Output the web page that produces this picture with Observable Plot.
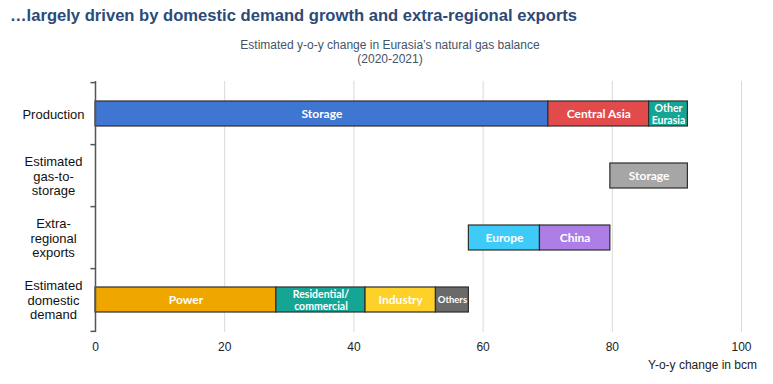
<!DOCTYPE html>
<html>
<head>
<meta charset="utf-8">
<script src="https://cdn.jsdelivr.net/npm/d3@7"></script>
<script src="https://cdn.jsdelivr.net/npm/@observablehq/plot@0.6"></script>
<style>
  body { margin: 0; background: #fff; width: 773px; height: 384px; position: relative; overflow: hidden; font-family: "Liberation Sans", Arial, sans-serif; }
  #title { position: absolute; left: 10px; top: 6px; font-size: 16.6px; font-weight: bold; color: #2C4A77; white-space: nowrap; }
  #subtitle { position: absolute; left: 0; width: 780px; top: 38px; text-align: center; font-size: 12px; line-height: 14px; color: #44546A; }
  #chart { position: absolute; left: 0; top: 70px; }
  #xlabel { position: absolute; right: 16px; top: 358px; font-size: 12px; color: #222; }
</style>
</head>
<body>
<div id="title">…largely driven by domestic demand growth and extra-regional exports</div>
<div id="subtitle">Estimated y-o-y change in Eurasia’s natural gas balance<br>(2020-2021)</div>
<div id="chart"></div>
<div id="xlabel">Y-o-y change in bcm</div>
<script>
// Categories (top to bottom)
const categories = ["Production", "Estimated gas-to-storage", "Extra-regional exports", "Estimated domestic demand"];
const categoryLabels = ["Production", "Estimated\ngas-to-\nstorage", "Extra-\nregional\nexports", "Estimated\ndomestic\ndemand"];

// Segments per category (bcm)
const productionNames = ["Storage", "Central Asia", "Other\nEurasia"];
const productionValues = [70.1, 15.6, 6.0];
const productionColors = ["#3F76D2", "#E24B4B", "#14A595"];

const storageNames = ["Storage"];
const storageValues = [12.0];
const storageColors = ["#A6A6A6"];

const exportNames = ["Europe", "China"];
const exportValues = [11.0, 10.9];
const exportColors = ["#3FCBF7", "#AC7EE6"];

const demandNames = ["Power", "Residential/\ncommercial", "Industry", "Others"];
const demandValues = [28.0, 13.8, 10.9, 5.1];
const demandColors = ["#EFA700", "#14A595", "#FDD128", "#6A6A6A"];

const xTicks = [0, 20, 40, 60, 80, 100];

// Build segment table (waterfall: demand from 0, exports after demand, storage after exports)
const sum = a => a.reduce((s, v) => s + v, 0);
function build(cat, names, values, colors, start, fontSizes) {
  let acc = start;
  return names.map((n, i) => {
    const r = {cat, name: n, x1: acc, x2: acc + values[i], color: colors[i], fs: fontSizes ? fontSizes[i] : 12};
    acc += values[i];
    return r;
  });
}
const demandTotal = sum(demandValues);
const exportTotal = sum(exportValues);
const segments = [
  ...build(categories[0], productionNames, productionValues, productionColors, 0, [12, 12, 10.5]),
  ...build(categories[1], storageNames, storageValues, storageColors, demandTotal + exportTotal),
  ...build(categories[2], exportNames, exportValues, exportColors, demandTotal),
  ...build(categories[3], demandNames, demandValues, demandColors, 0, [12, 10.5, 12, 9.5])
];

const labelMap = new Map(categories.map((c, i) => [c, categoryLabels[i]]));
const step = (332 - 81) / categories.length;

const chart = Plot.plot({
  width: 773,
  height: 314,
  marginTop: 11,
  marginBottom: 52,
  marginLeft: 95,
  marginRight: 32,
  style: {fontFamily: "'Liberation Sans', Arial, sans-serif", background: "transparent"},
  x: {domain: [0, 100], ticks: xTicks, label: null},
  y: {domain: categories, paddingInner: 0.6, paddingOuter: 0.3, axis: null},
  marks: [
    Plot.ruleX(xTicks.filter(d => d > 0), {stroke: "#D9D9D9", strokeWidth: 1}),
    Plot.axisX({ticks: xTicks, tickSize: 0, tickPadding: 10, fontSize: 12, color: "#222", label: null}),
    Plot.barX(segments, {y: "cat", x1: "x1", x2: "x2", fill: "color", stroke: "#2E2E2E", strokeWidth: 1.2}),
    Plot.text(segments, {
      y: "cat", x: d => (d.x1 + d.x2) / 2, text: "name", fill: "white",
      fontWeight: "bold", fontSize: d => d.fs, lineHeight: 1.12,
      fontFamily: "Lato, 'Open Sans', sans-serif"
    }),
    Plot.ruleX([0], {stroke: "#555", strokeWidth: 1.5}),
    Plot.ruleY(categories, {y: d => d, x1: -0.7, x2: 0, dy: -step / 2, stroke: "#555", strokeWidth: 1.5}),
    Plot.ruleY(categories.slice(-1), {y: d => d, x1: -0.7, x2: 0, dy: step / 2, stroke: "#555", strokeWidth: 1.5}),
    Plot.text(categories, {
      y: d => d, x: 0, dx: -42, text: d => labelMap.get(d), textAnchor: "middle",
      fontSize: 13, lineHeight: 1.13, fill: "#111"
    })
  ]
});
document.getElementById("chart").appendChild(chart);
</script>
</body>
</html>
